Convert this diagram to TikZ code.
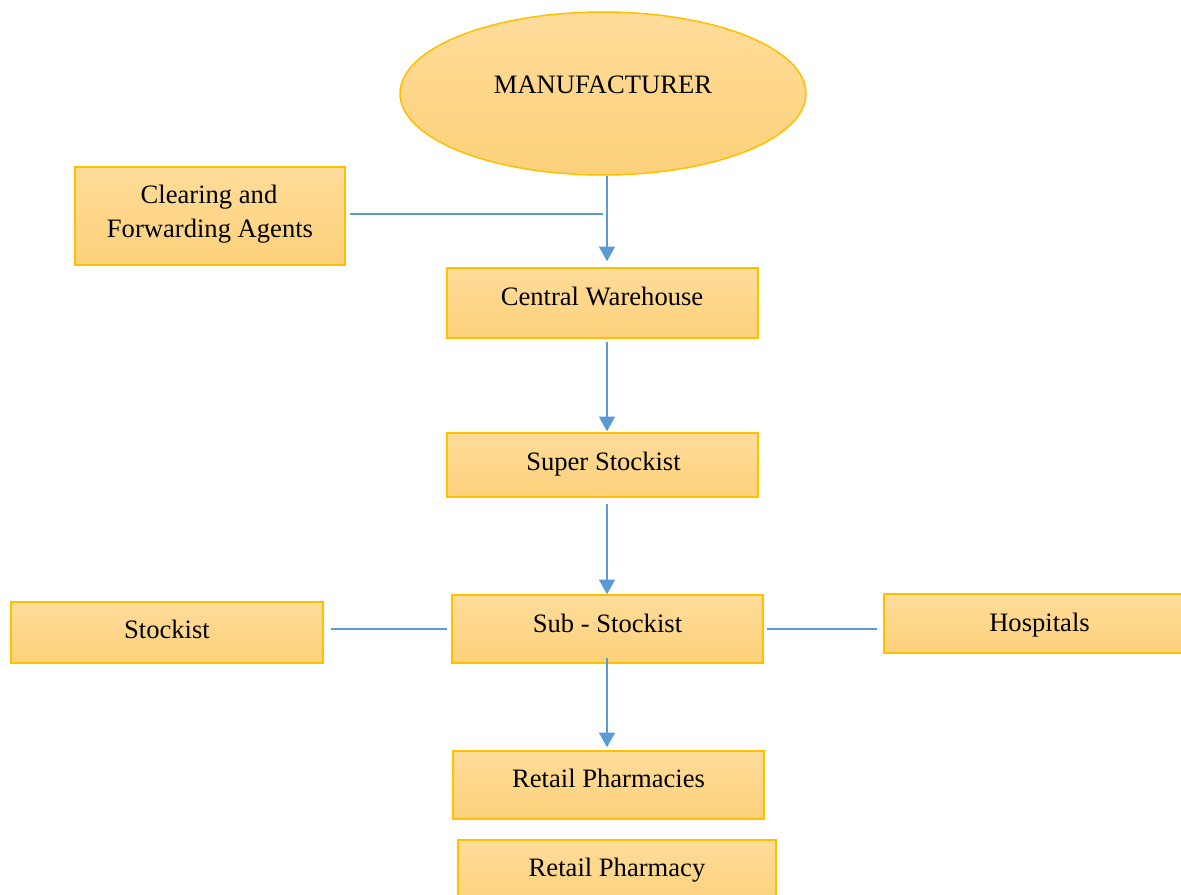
\documentclass[tikz,border=0pt]{standalone}
\usepackage{fontspec}
\setmainfont{Liberation Serif}
\usetikzlibrary{arrows.meta,shapes.geometric,fit}
\definecolor{boxtop}{RGB}{254,220,154}
\definecolor{boxbot}{RGB}{253,209,122}
\definecolor{boxline}{RGB}{255,192,0}
\definecolor{conn}{RGB}{91,155,213}
\tikzset{
  box/.style={draw=boxline, line width=0.75pt, top color=boxtop, bottom color=boxbot, inner sep=0pt},
  lbl/.style={font=\fontsize{13.3}{16.5}\selectfont, inner sep=0pt, anchor=base, align=center},
  ln/.style={draw=conn, line width=0.75pt},
  arr/.style={ln, -{Triangle[width=8pt,length=7.3pt]}}
}
\begin{document}
\begin{tikzpicture}[x=0.5pt,y=-0.5pt]
\useasboundingbox (0,0) rectangle (1181,894);
\clip (0,0) rectangle (1181,894);
% boxes
\node[box, ellipse, minimum width=203pt, minimum height=81.5pt] (man) at (603,93.5) {};
\node[box, fit={(75,167)(345,265)}] (cfa) {};
\node[box, fit={(447,268)(758,338)}] (cw) {};
\node[box, fit={(447,433)(758,497)}] (ss) {};
\node[box, fit={(452,595)(763,663)}] (sub) {};
\node[box, fit={(11,602)(323,663)}] (st) {};
\node[box, fit={(884,594)(1195,653)}] (hosp) {};
\node[box, fit={(453,751)(764,819)}] (rps) {};
\node[box, fit={(458,840)(776,908)}] (rp) {};
% labels
\node[lbl] (mant) at (603,93) {MANUFACTURER};
\node[lbl] (cfat1) at (209,203) {Clearing and};
\node[lbl] (cfat2) at (210,237) {Forwarding Agents};
\node[lbl] (cwt) at (602,305) {Central Warehouse};
\node[lbl] (sst) at (603.5,470) {Super Stockist};
\node[lbl] (subt) at (607.5,632) {Sub - Stockist};
\node[lbl] (stt) at (167,638) {Stockist};
\node[lbl] (hospt) at (1039.5,631) {Hospitals};
\node[lbl] (rpst) at (608.5,787) {Retail Pharmacies};
\node[lbl] (rpt) at (617,876) {Retail Pharmacy};
% connectors
\coordinate (j1) at (603,214);
\draw[ln, shorten <=2pt] ([yshift=1pt]cfa.east) -- (j1);
\draw[arr, shorten >=3pt] ([xshift=2pt]man.south) -- ([xshift=2pt]man.south |- cw.north);
\draw[arr, shorten <=1.5pt, shorten >=0.5pt] ([xshift=2.25pt]cw.south) -- ([xshift=2.25pt]cw.south |- ss.north);
\draw[arr, shorten <=3pt] ([xshift=2.25pt]ss.south) -- ([xshift=2.25pt]ss.south |- sub.north);
\draw[arr, shorten <=-3pt, shorten >=1.5pt] ([xshift=-0.25pt]sub.south) -- ([xshift=-0.25pt]sub.south |- rps.north);
\draw[ln, shorten <=3.5pt, shorten >=2pt] (sub.west -| st.east) -- (sub.west);
\draw[ln, shorten <=1.5pt, shorten >=3pt] (sub.east) -- (sub.east -| hosp.west);
\end{tikzpicture}
\end{document}
